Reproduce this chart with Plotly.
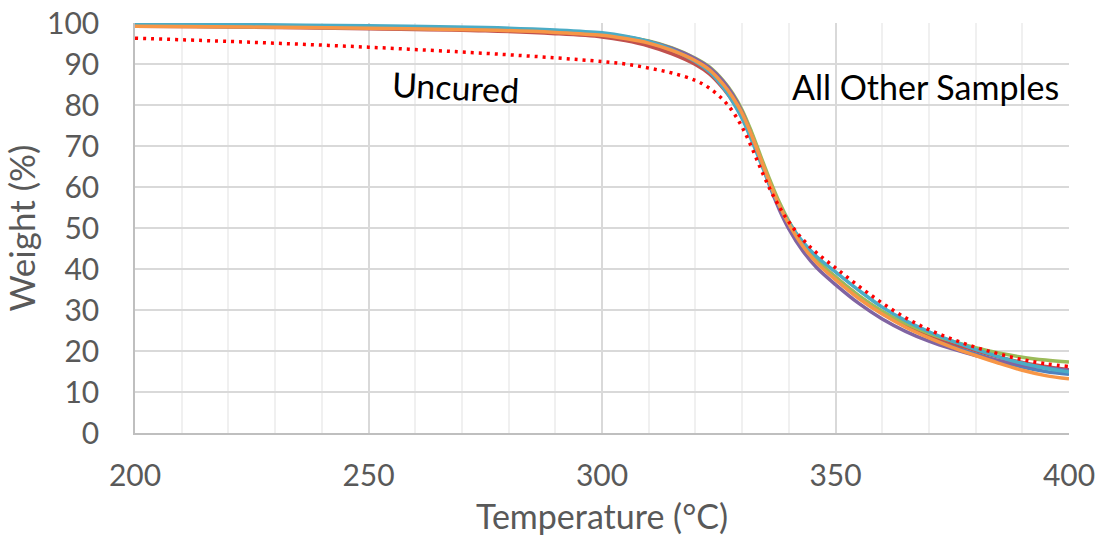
import plotly.graph_objects as go

# Temperature grid (°C) shared by every TGA trace
temperature = [200, 225, 250, 275, 290, 300, 305, 310, 315, 320, 323, 326, 328, 330,
               332, 334, 336, 338, 340, 343, 346, 350, 355, 360, 365, 370, 375, 380,
               385, 390, 395, 400]

# Weight (%) of the cured samples
sample_blue = [99.4, 99.2, 98.9, 98.5, 97.9, 97.2, 96.4, 95.2, 93.3, 90.7, 88.4, 84.8, 81.6, 77.7,
               72.5, 66.7, 60.9, 55.7, 51.3, 46.0, 41.9, 37.7, 33.1, 29.2, 26.1, 23.5, 21.2, 19.3,
               17.6, 16.1, 15.0, 14.3]
sample_red = [99.2, 99.0, 98.6, 98.1, 97.4, 96.6, 95.7, 94.4, 92.5, 89.9, 87.6, 84.0, 80.9, 77.0,
              72.0, 66.4, 60.7, 55.6, 51.3, 46.1, 42.1, 38.0, 33.4, 29.6, 26.5, 24.0, 21.9, 20.1,
              18.5, 17.2, 16.2, 15.4]
sample_green = [99.3, 99.1, 98.8, 98.5, 97.9, 97.3, 96.6, 95.6, 93.9, 91.4, 89.3, 85.9, 82.8, 78.8,
                73.5, 67.5, 61.6, 56.2, 51.7, 46.3, 42.2, 38.0, 33.5, 29.7, 26.7, 24.3, 22.4, 20.8,
                19.5, 18.5, 17.8, 17.3]
sample_purple = [99.3, 99.1, 98.8, 98.4, 97.9, 97.3, 96.6, 95.5, 93.8, 91.3, 89.1, 85.7, 82.5, 78.3,
                 72.6, 66.4, 60.0, 54.4, 49.8, 44.4, 40.3, 36.2, 31.6, 27.8, 24.8, 22.4, 20.5, 18.9,
                 17.6, 16.6, 15.9, 15.3]
sample_aqua = [99.8, 99.6, 99.3, 98.9, 98.3, 97.6, 96.8, 95.5, 93.5, 90.6, 88.1, 84.2, 80.8, 76.7,
               71.5, 65.9, 60.3, 55.4, 51.4, 46.6, 43.0, 39.3, 34.8, 30.7, 27.4, 24.7, 22.4, 20.4,
               18.6, 17.0, 15.8, 14.9]
sample_orange = [99.2, 99.0, 98.7, 98.3, 97.7, 97.0, 96.2, 95.1, 93.3, 90.8, 88.6, 85.0, 81.9, 78.0,
                 72.7, 66.8, 60.8, 55.5, 51.0, 45.6, 41.5, 37.4, 32.8, 29.0, 25.8, 23.2, 20.9, 18.9,
                 17.0, 15.3, 14.0, 13.2]

# Weight (%) of the uncured sample
uncured = [96.3, 95.3, 94.1, 92.6, 91.5, 90.6, 90.0, 89.0, 87.8, 86.0, 84.1, 81.2, 78.4, 74.6,
           69.8, 64.4, 59.4, 55.1, 51.5, 47.2, 43.9, 40.3, 35.8, 31.7, 28.1, 25.2, 22.9, 20.9,
           19.3, 17.9, 16.9, 16.2]

x_ticks = [200, 250, 300, 350, 400]
y_ticks = [0, 10, 20, 30, 40, 50, 60, 70, 80, 90, 100]

cured_series = [
    (sample_blue, "#4F81BD"),
    (sample_red, "#C0504D"),
    (sample_green, "#9BBB59"),
    (sample_purple, "#8064A2"),
    (sample_aqua, "#4BACC6"),
    (sample_orange, "#F79646"),
]

FONT = "Lato, Calibri, Arial, sans-serif"
TEXT_GREY = "#595959"

fig = go.Figure()
for values, color in cured_series:
    fig.add_trace(go.Scatter(
        x=temperature, y=values, mode="lines",
        line=dict(color=color, width=3.5, shape="spline", smoothing=1.0),
        showlegend=False, hoverinfo="skip",
    ))

fig.add_trace(go.Scatter(
    x=temperature, y=uncured, mode="lines",
    line=dict(color="#FF0000", width=3.5, dash="3px,5px", shape="spline", smoothing=1.0),
    showlegend=False, hoverinfo="skip",
))

fig.add_annotation(x=268.7, y=84.4, text="Uncured", showarrow=False, textangle=3,
                   font=dict(family=FONT, size=34, color="#000000"))
fig.add_annotation(x=369.2, y=84.4, text="All Other Samples", showarrow=False,
                   font=dict(family=FONT, size=34, color="#000000"))

fig.update_layout(
    width=1096, height=544,
    margin=dict(l=135, r=27, t=23, b=111, autoexpand=False),
    paper_bgcolor="white", plot_bgcolor="white",
    font=dict(family=FONT, color=TEXT_GREY),
    xaxis=dict(
        range=[200, 400], tickvals=x_ticks, ticks="", automargin=False,
        tickfont=dict(size=30, color=TEXT_GREY), ticklabelstandoff=15,
        showgrid=True, gridcolor="#D9D9D9", gridwidth=1.5,
        minor=dict(dtick=10, showgrid=True, gridcolor="#F0F0F0", gridwidth=1.5),
        showline=True, linecolor="#BFBFBF", linewidth=1.5,
        zeroline=False,
        title=dict(text="Temperature (°C)", font=dict(size=34, color=TEXT_GREY), standoff=14),
    ),
    yaxis=dict(
        range=[0, 100], tickvals=y_ticks, ticks="", automargin=False,
        tickfont=dict(size=30, color=TEXT_GREY), ticklabelstandoff=28,
        showgrid=True, gridcolor="#D9D9D9", gridwidth=1.5,
        showline=True, linecolor="#BFBFBF", linewidth=1.5,
        zeroline=False,
        title=dict(text="Weight (%)", font=dict(size=35, color=TEXT_GREY), standoff=20),
    ),
)

fig.write_html("out.html")
